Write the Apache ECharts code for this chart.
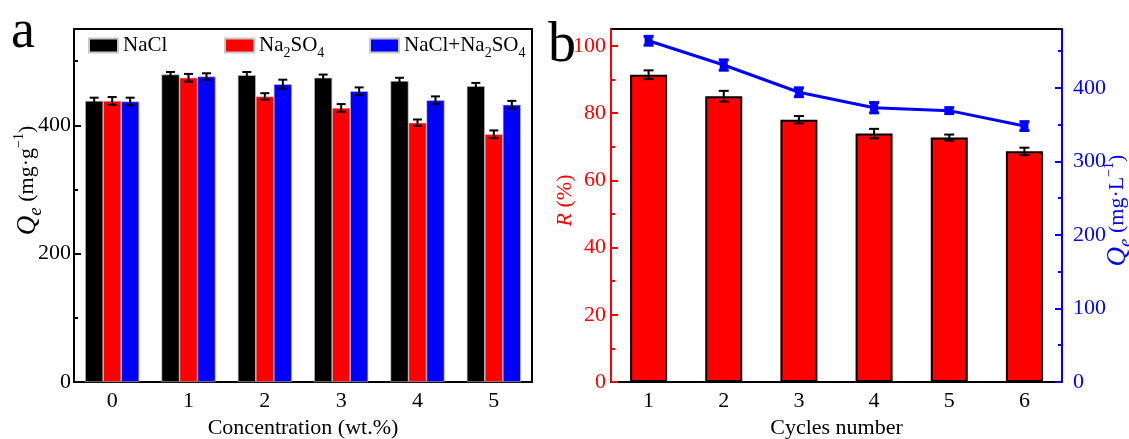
<!DOCTYPE html>
<html><head><meta charset="utf-8">
<script src="https://cdn.jsdelivr.net/npm/echarts@6/dist/echarts.min.js"></script>
<style>html,body{margin:0;padding:0;background:#fff}#c{width:1129px;height:439px}</style>
</head><body><div id="c"></div>
<script>
// ---- Panel a data ----
const concentrations = ['0', '1', '2', '3', '4', '5'];
const naclValues = [438, 479, 478, 474, 469, 461];
const naclErrors = [5, 4, 5, 5, 5, 5];
const na2so4Values = [438, 474, 445, 427, 404, 386];
const na2so4Errors = [6, 6, 5, 6, 5, 6];
const mixValues = [437, 476, 464, 453, 439, 432];
const mixErrors = [6, 5, 7, 6, 6, 6];
const qeTicksA = [0, 200, 400];
const qeMinorTicksA = [100, 300, 500];

// ---- Panel b data ----
const cycles = ['1', '2', '3', '4', '5', '6'];
const removalValues = [91.4, 85.0, 78.0, 73.9, 72.7, 68.6];
const removalErrors = [1.3, 1.6, 1.1, 1.4, 0.9, 1.1];
const qeValues = [464, 431, 394, 373, 369, 348];
const qeErrors = [6, 7, 6, 7, 4, 6];
const rTicks = [0, 20, 40, 60, 80, 100];
const rMinorTicks = [10, 30, 50, 70, 90];
const qeTicksB = [0, 100, 200, 300, 400];
const qeMinorTicksB = [50, 150, 250, 350, 450];

const FF = 'Liberation Serif';
const RED = '#ff0000', BLUE = '#0000ff', BLACK = '#000000';

function errData(vals, errs) { return vals.map((v, i) => [i, v - errs[i], v + errs[i]]); }
function errorBar(offset, capHalf, color, width) {
  return function (params, api) {
    const i = api.value(0);
    const lo = api.coord([i, api.value(1)]);
    const hi = api.coord([i, api.value(2)]);
    const x = lo[0] + offset;
    const style = { stroke: color, lineWidth: width };
    return { type: 'group', children: [
      { type: 'line', shape: { x1: x, y1: hi[1], x2: x, y2: lo[1] }, style },
      { type: 'line', shape: { x1: x - capHalf, y1: hi[1], x2: x + capHalf, y2: hi[1] }, style },
      { type: 'line', shape: { x1: x - capHalf, y1: lo[1], x2: x + capHalf, y2: lo[1] }, style }
    ] };
  };
}

const subRich = {
  sub: { fontFamily: FF, fontSize: 14, color: BLACK, padding: [16, 0, 0, 0] }
};
function legendFmt(name) { return name.replace(/2/g, '{sub|2}').replace(/4/g, '{sub|4}'); }
const legendCommon = {
  icon: 'rect', itemWidth: 29, itemHeight: 14, padding: 0, selectedMode: false,
  textStyle: { fontFamily: FF, fontSize: 21, color: BLACK, rich: subRich },
  formatter: legendFmt
};

function nameRich(color) {
  return {
    q: { fontFamily: FF, fontStyle: 'italic', fontSize: 27, color },
    e: { fontFamily: FF, fontStyle: 'italic', fontSize: 19, color, padding: [16, 0, 0, 0] },
    t: { fontFamily: FF, fontSize: 22, color },
    sup: { fontFamily: FF, fontSize: 14, color, padding: [0, 0, 16, 0] }
  };
}

function valueAxis(opts) {
  return Object.assign({
    type: 'value', min: 0, splitLine: { show: false }, nameMoveOverlap: false
  }, opts);
}

const option = {
  animation: false,
  backgroundColor: '#fff',
  graphic: [
    { type: 'text', left: 11, top: 6, style: { text: 'a', font: '54px "Liberation Serif"', fill: BLACK } },
    { type: 'text', left: 548, top: 18, style: { text: 'b', font: '56px "Liberation Serif"', fill: BLACK } }
  ],
  legend: [
    Object.assign({ data: ['NaCl'], left: 88, top: 35 }, legendCommon),
    Object.assign({ data: ['Na2SO4'], left: 224, top: 35 }, legendCommon),
    Object.assign({ data: ['NaCl+Na2SO4'], left: 369, top: 35 }, legendCommon)
  ],
  grid: [
    { left: 74, top: 29, right: 597, bottom: 57, show: true, borderColor: BLACK, borderWidth: 2,
      backgroundColor: 'transparent', outerBoundsMode: 'none', containLabel: false },
    { left: 611, top: 29, right: 67, bottom: 57, show: true, borderColor: BLACK, borderWidth: 2,
      backgroundColor: 'transparent', outerBoundsMode: 'none', containLabel: false }
  ],
  xAxis: [
    { type: 'category', gridIndex: 0, data: concentrations,
      axisLine: { lineStyle: { color: BLACK, width: 2 } }, axisTick: { show: false },
      axisLabel: { fontFamily: FF, fontSize: 22, color: BLACK, margin: 8 },
      name: 'Concentration (wt.%)', nameLocation: 'middle', nameGap: 35,
      nameTextStyle: { fontFamily: FF, fontSize: 22, color: BLACK } },
    { type: 'category', gridIndex: 1, data: cycles,
      axisLine: { lineStyle: { color: BLACK, width: 2 } }, axisTick: { show: false },
      axisLabel: { fontFamily: FF, fontSize: 22, color: BLACK, margin: 8 },
      name: 'Cycles number', nameLocation: 'middle', nameGap: 35,
      nameTextStyle: { fontFamily: FF, fontSize: 22, color: BLACK } }
  ],
  yAxis: [
    valueAxis({ gridIndex: 0, max: 550, position: 'left',
      axisLine: { show: true, lineStyle: { color: BLACK, width: 2 } },
      axisTick: { show: true, inside: true, length: 7, lineStyle: { color: BLACK, width: 2 }, customValues: qeTicksA },
      axisLabel: { fontFamily: FF, fontSize: 22, color: BLACK, margin: 3, customValues: qeTicksA },
      name: '{q|Q}{e|e}{t| (mg·g}{sup|−1}{t|)}', nameLocation: 'middle', nameRotate: 90, nameGap: 29,
      nameTextStyle: { fontFamily: FF, fontSize: 22, color: BLACK, padding: [0, 0, 0, 50], rich: nameRich(BLACK) } }),
    valueAxis({ gridIndex: 0, max: 550, position: 'left',
      axisLine: { show: false },
      axisTick: { show: true, inside: true, length: 4, lineStyle: { color: BLACK, width: 2 }, customValues: qeMinorTicksA },
      axisLabel: { show: false } }),
    valueAxis({ gridIndex: 1, max: 105, position: 'left',
      axisLine: { show: true, lineStyle: { color: RED, width: 2 } },
      axisTick: { show: true, inside: true, length: 7, lineStyle: { color: RED, width: 2 }, customValues: rTicks },
      axisLabel: { fontFamily: FF, fontSize: 22, color: RED, margin: 5, customValues: rTicks },
      name: '{r|R}{t| (%)}', nameLocation: 'middle', nameRotate: 90, nameGap: 35,
      nameTextStyle: { fontFamily: FF, fontSize: 22, color: RED, padding: [0, 0, 0, 10], rich: {
        r: { fontFamily: FF, fontStyle: 'italic', fontSize: 22, color: RED },
        t: { fontFamily: FF, fontSize: 22, color: RED } } } }),
    valueAxis({ gridIndex: 1, max: 105, position: 'left',
      axisLine: { show: false },
      axisTick: { show: true, inside: true, length: 4, lineStyle: { color: RED, width: 2 }, customValues: rMinorTicks },
      axisLabel: { show: false } }),
    valueAxis({ gridIndex: 1, max: 480, position: 'right',
      axisLine: { show: true, lineStyle: { color: BLUE, width: 2 } },
      axisTick: { show: true, inside: true, length: 7, lineStyle: { color: BLUE, width: 2 }, customValues: qeTicksB },
      axisLabel: { fontFamily: FF, fontSize: 22, color: BLUE, margin: 11, customValues: qeTicksB },
      name: '{q|Q}{e|e}{t| (mg·L}{sup|−1}{t|)}', nameLocation: 'middle', nameRotate: 90, nameGap: 38,
      nameTextStyle: { fontFamily: FF, fontSize: 22, color: BLUE, padding: [0, 10, 0, 0], rich: nameRich(BLUE) } }),
    valueAxis({ gridIndex: 1, max: 480, position: 'right',
      axisLine: { show: false },
      axisTick: { show: true, inside: true, length: 4, lineStyle: { color: BLUE, width: 2 }, customValues: qeMinorTicksB },
      axisLabel: { show: false } })
  ],
  series: [
    { name: 'NaCl', type: 'bar', xAxisIndex: 0, yAxisIndex: 0, data: naclValues, barWidth: 18, barGap: '0%',
      itemStyle: { color: BLACK, borderColor: '#c8c8c8', borderWidth: 0.6 } },
    { name: 'Na2SO4', type: 'bar', xAxisIndex: 0, yAxisIndex: 0, data: na2so4Values, barWidth: 18, barGap: '0%',
      itemStyle: { color: RED, borderColor: '#c8c8c8', borderWidth: 0.6 } },
    { name: 'NaCl+Na2SO4', type: 'bar', xAxisIndex: 0, yAxisIndex: 0, data: mixValues, barWidth: 18, barGap: '0%',
      itemStyle: { color: BLUE, borderColor: '#c8c8c8', borderWidth: 0.6 } },
    { type: 'custom', xAxisIndex: 0, yAxisIndex: 0, z: 10, data: errData(naclValues, naclErrors),
      encode: { x: 0, y: [1, 2] }, renderItem: errorBar(-18, 4.5, BLACK, 2) },
    { type: 'custom', xAxisIndex: 0, yAxisIndex: 0, z: 10, data: errData(na2so4Values, na2so4Errors),
      encode: { x: 0, y: [1, 2] }, renderItem: errorBar(0, 4.5, BLACK, 2) },
    { type: 'custom', xAxisIndex: 0, yAxisIndex: 0, z: 10, data: errData(mixValues, mixErrors),
      encode: { x: 0, y: [1, 2] }, renderItem: errorBar(18, 4.5, BLACK, 2) },

    { name: 'R', type: 'bar', xAxisIndex: 1, yAxisIndex: 2, data: removalValues, barWidth: 37,
      itemStyle: { color: RED, borderColor: BLACK, borderWidth: 2 } },
    { type: 'custom', xAxisIndex: 1, yAxisIndex: 2, z: 10, data: errData(removalValues, removalErrors),
      encode: { x: 0, y: [1, 2] }, renderItem: errorBar(0, 5, BLACK, 2) },
    { name: 'Qe', type: 'line', xAxisIndex: 1, yAxisIndex: 4, data: qeValues, z: 12,
      symbol: 'rect', symbolSize: 8, itemStyle: { color: BLUE }, lineStyle: { color: BLUE, width: 3 } },
    { type: 'custom', xAxisIndex: 1, yAxisIndex: 4, z: 13, data: errData(qeValues, qeErrors),
      encode: { x: 0, y: [1, 2] }, renderItem: errorBar(0, 5, BLUE, 3) }
  ]
};

const chart = echarts.init(document.getElementById('c'), null, { renderer: 'canvas' });
chart.setOption(option);
</script>
</body></html>
